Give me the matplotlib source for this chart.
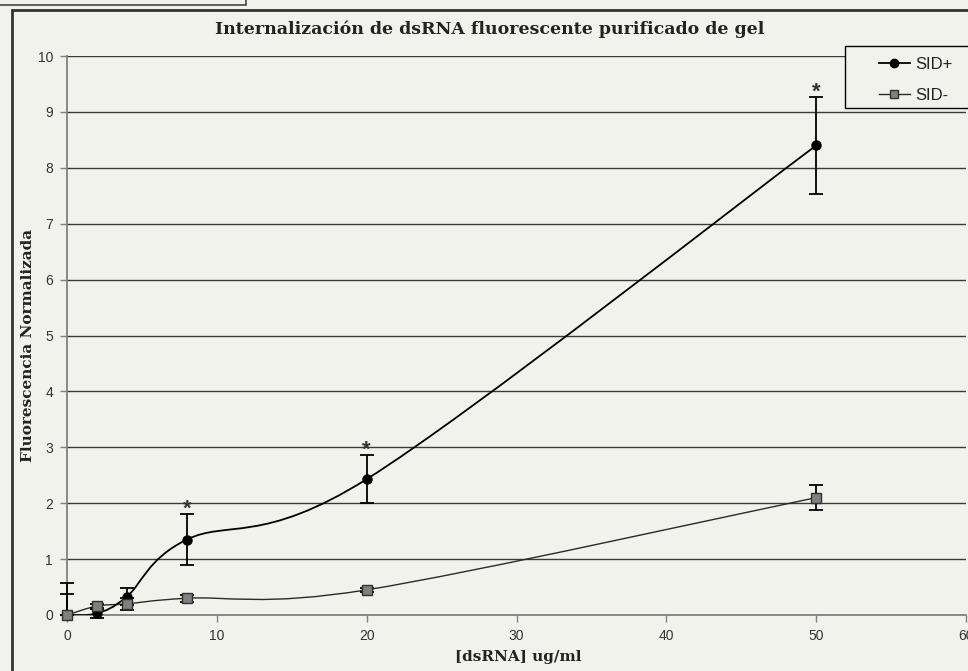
import matplotlib
matplotlib.use("Agg")
import matplotlib.pyplot as plt
import numpy as np
from matplotlib.path import Path
from matplotlib.patches import PathPatch, Rectangle
from matplotlib.lines import Line2D

# ---- data ----
conc = [0, 2, 4, 8, 20, 50]
sid_plus = [0.0, 0.03, 0.33, 1.35, 2.43, 8.40]
sid_plus_err_up = [0.58, 0.08, 0.15, 0.45, 0.43, 0.87]
sid_plus_err_lo = [0.0, 0.08, 0.15, 0.45, 0.43, 0.87]
sid_minus = [0.0, 0.16, 0.20, 0.30, 0.45, 2.10]
sid_minus_err_up = [0.37, 0.04, 0.11, 0.06, 0.04, 0.22]
sid_minus_err_lo = [0.0, 0.04, 0.11, 0.06, 0.04, 0.22]
star_x = [8, 20, 50]
title = "Internalización de dsRNA fluorescente purificado de gel"
xlabel = "[dsRNA] ug/ml"
ylabel = "Fluorescencia Normalizada"
labels = ["SID+", "SID-"]

BG = "#f2f2ed"
W, H = 968, 671
fig = plt.figure(figsize=(W / 100, H / 100), dpi=100, facecolor=BG)
ax = fig.add_axes([67 / W, 1 - 615 / H, (966 - 67) / W, (615 - 56) / H])
ax.set_facecolor(BG)


def smooth_path(xs, ys):
    """Excel-like smoothed line: cubic Bezier segments through the data points."""
    pts = np.column_stack([xs, ys]).astype(float)
    n = len(pts)
    verts = [pts[0]]
    codes = [Path.MOVETO]
    for i in range(n - 1):
        p0 = pts[i - 1] if i > 0 else pts[i]
        p1 = pts[i]
        p2 = pts[i + 1]
        p3 = pts[i + 2] if i + 2 < n else pts[i + 1]
        c1 = p1 + (p2 - p0) / 6.0
        c2 = p2 - (p3 - p1) / 6.0
        verts += [c1, c2, p2]
        codes += [Path.CURVE4] * 3
    return Path(verts, codes)


ax.add_patch(PathPatch(smooth_path(conc, sid_minus), facecolor="none",
                       edgecolor="#2a2a2a", lw=1.0, zorder=3))
ax.add_patch(PathPatch(smooth_path(conc, sid_plus), facecolor="none",
                       edgecolor="black", lw=1.3, zorder=4))

for vals, lo, up in [(sid_minus, sid_minus_err_lo, sid_minus_err_up),
                     (sid_plus, sid_plus_err_lo, sid_plus_err_up)]:
    eb = ax.errorbar(conc, vals, yerr=[lo, up], fmt="none", ecolor="black",
                     elinewidth=1.3, capsize=5, capthick=1.3, zorder=5)
    for art in eb.lines[1] + eb.lines[2]:
        art.set_clip_on(False)

ax.plot(conc, sid_plus, ls="none", marker="o", ms=6.5, mfc="black",
        mec="black", zorder=6, clip_on=False)
ax.plot(conc, sid_minus, ls="none", marker="s", ms=6.5, mfc="#808080",
        mec="#303030", mew=1.0, zorder=7, clip_on=False)

for sx in star_x:
    i = conc.index(sx)
    ax.annotate("*", xy=(sx, sid_plus[i] + sid_plus_err_up[i]),
                xytext=(0, -0.5), textcoords="offset points", ha="center",
                va="baseline", fontsize=16, fontweight="bold",
                color="#333333", family="Liberation Sans", zorder=8)

ax.set_xlim(0, 60)
ax.set_ylim(0, 10)
ax.set_xticks(range(0, 61, 10))
ax.set_yticks(range(0, 11))
ax.yaxis.grid(True, color="#3a3a3a", lw=1.0)
ax.set_axisbelow(True)
for s in ["top", "right"]:
    ax.spines[s].set_visible(False)
for s in ["left", "bottom"]:
    ax.spines[s].set_color("#808080")
    ax.spines[s].set_linewidth(1.3)
ax.tick_params(direction="out", length=5, width=1, color="#808080",
               labelsize=10, labelcolor="#333333", pad=5)
for lab in ax.get_xticklabels() + ax.get_yticklabels():
    lab.set_family("Liberation Sans")

fig.text(490 / W, 1 - 29 / H, title, ha="center", va="center",
         fontsize=12.5, fontweight="bold", family="DejaVu Serif",
         color="#222222")
fig.text(518 / W, 1 - 657 / H, xlabel, ha="center", va="center",
         fontsize=11, fontweight="bold", family="DejaVu Serif",
         color="#222222")
fig.text(28 / W, 1 - 345 / H, ylabel, ha="center", va="center",
         rotation=90, fontsize=11, fontweight="bold", family="DejaVu Serif",
         color="#222222")

# outer frame and small top-left box
fig.add_artist(Rectangle((12 / W, -0.05), 1.0, 1 - 10 / H + 0.05,
                         transform=fig.transFigure, fill=False,
                         edgecolor="#333333", lw=2, clip_on=False))
fig.add_artist(Rectangle((-0.01, 1 - 5 / H), 256 / W, 0.05,
                         transform=fig.transFigure, facecolor=BG,
                         edgecolor="#444444", lw=1.2, clip_on=False))

# legend
fig.add_artist(Rectangle((845 / W, 1 - 108 / H), 0.2, 62 / H,
                         transform=fig.transFigure, facecolor=BG,
                         edgecolor="black", lw=1, zorder=9, clip_on=False))
handles = [
    Line2D([], [], color="black", lw=1.3, marker="o", ms=6, mfc="black"),
    Line2D([], [], color="#2a2a2a", lw=1.0, marker="s", ms=6, mfc="#808080",
           mec="#303030"),
]
leg = fig.legend(handles, labels, loc="upper left",
                 bbox_to_anchor=(879 / W, 1 - 57 / H), frameon=False,
                 borderpad=0, borderaxespad=0,
                 handlelength=1.85, handletextpad=0.3, labelspacing=0.93,
                 prop={"family": "Liberation Sans", "size": 12})
leg.set_zorder(10)
for t in leg.get_texts():
    t.set_color("#222222")

fig.savefig("out.png", dpi=100, facecolor=BG)
